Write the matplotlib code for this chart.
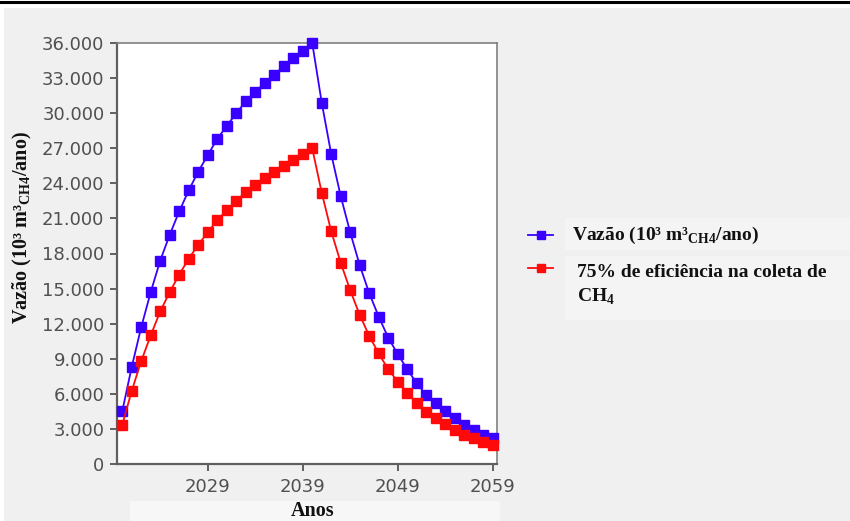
import matplotlib
matplotlib.use("Agg")
import matplotlib.pyplot as plt
from matplotlib.patches import Rectangle
from matplotlib.lines import Line2D
from matplotlib.ticker import FuncFormatter

plt.rcParams['mathtext.fontset'] = 'custom'
plt.rcParams['mathtext.rm'] = 'Liberation Serif:bold'
plt.rcParams['mathtext.bf'] = 'Liberation Serif:bold'

years = list(range(2020, 2060))
vazao = [4500, 8300, 11700, 14700, 17400, 19600, 21600, 23400, 25000, 26400,
         27800, 28900, 30000, 31000, 31800, 32600, 33300, 34000, 34700, 35300,
         36000, 30900, 26500, 22900, 19800, 17000, 14600, 12600, 10800, 9400,
         8100, 6900, 5900, 5200, 4500, 3900, 3300, 2900, 2500, 2200]
eficiencia75 = [3350, 6250, 8800, 11000, 13050, 14700, 16200, 17550, 18750, 19800,
                20850, 21700, 22500, 23250, 23850, 24450, 24950, 25500, 26000, 26500,
                27000, 23200, 19900, 17200, 14850, 12750, 10950, 9450, 8100, 7050,
                6100, 5200, 4450, 3900, 3400, 2950, 2500, 2200, 1900, 1650]
xticks = [2029, 2039, 2049, 2059]
yticks = list(range(0, 36001, 3000))

legend_labels = ['Vazão (10³ m³$_{\\mathrm{CH4}}$/ano)',
                 '75% de eficiência na coleta de\nCH$_{\\mathrm{4}}$']
ylabel = 'Vazão (10³ m³$_{\\mathrm{CH4}}$/ano)'
xlabel = 'Anos'

W, H = 850, 521
fig = plt.figure(figsize=(8.5, 5.21), dpi=100, facecolor='white')

# background panels
bg = [((4, 8), (846, 513), '#f0f0f0'),
      ((130, 501), (370, 20), '#f7f7f7'),
      ((565, 218), (285, 32), '#f4f4f4'),
      ((565, 256), (285, 64), '#f4f4f4')]
for (x0, y0), (w, h), c in bg:
    fig.patches.append(Rectangle((x0 / W, 1 - (y0 + h) / H), w / W, h / H,
                                 transform=fig.transFigure, facecolor=c,
                                 edgecolor='none', zorder=-10))
fig.lines.append(Line2D([0, 1], [1 - 1.5 / H, 1 - 1.5 / H], transform=fig.transFigure,
                        color='black', lw=2.2, zorder=-5))

ax = fig.add_axes([117 / W, 1 - 464 / H, 380 / W, 421 / H])
ax.set_zorder(1)
ax.set_facecolor('white')

blue = '#3a00ff'
red = '#ff0a0a'
ax.plot(years, vazao, color=blue, lw=1.3, marker='s', ms=6.6, mec=blue, mfc=blue,
        clip_on=False, zorder=3)
ax.plot(years, eficiencia75, color=red, lw=1.3, marker='s', ms=6.6, mec=red, mfc=red,
        clip_on=False, zorder=3)

ax.set_xlim(2019.45, 2059.45)
ax.set_ylim(0, 36000)
ax.set_xticks(xticks)
ax.set_yticks(yticks)
ax.yaxis.set_major_formatter(FuncFormatter(lambda v, p: f"{v:,.0f}".replace(',', '.')))
for s in ['top', 'right']:
    ax.spines[s].set_color('#808080')
    ax.spines[s].set_linewidth(1.2)
for s in ['left', 'bottom']:
    ax.spines[s].set_color('#606060')
    ax.spines[s].set_linewidth(1.6)
ax.tick_params(axis='both', direction='out', length=5, width=1.4, color='#606060',
               labelcolor='#505050', labelsize=13)
ax.tick_params(axis='y', pad=4)
ax.tick_params(axis='x', pad=5)
for lab in ax.get_xticklabels() + ax.get_yticklabels():
    lab.set_family('DejaVu Sans')

fig.text(22 / W, 1 - 228 / H, ylabel, rotation=90, ha='center', va='center',
         family='Liberation Serif', fontweight='bold', fontsize=14.5, color='#111111')
fig.text(313 / W, 1 - 511 / H, xlabel, ha='center', va='center',
         family='Liberation Serif', fontweight='bold', fontsize=14.5, color='#111111')

# legend
for yy, col in [(235, blue), (268, red)]:
    fig.lines.append(Line2D([528 / W, 553 / W], [1 - yy / H, 1 - yy / H],
                            transform=fig.transFigure, color=col, lw=1.3))
    fig.lines.append(Line2D([540.5 / W], [1 - yy / H], transform=fig.transFigure,
                            color=col, marker='s', ms=6.2, lw=0))
fig.text(572 / W, 1 - 235 / H, legend_labels[0], ha='left', va='center',
         family='Liberation Serif', fontweight='bold', fontsize=14, color='#111111')
fig.text(577 / W, 1 - 264 / H, legend_labels[1], ha='left', va='top',
         family='Liberation Serif', fontweight='bold', fontsize=14, color='#111111',
         linespacing=1.35)

fig.savefig('out.png', dpi=100, facecolor=fig.get_facecolor())
